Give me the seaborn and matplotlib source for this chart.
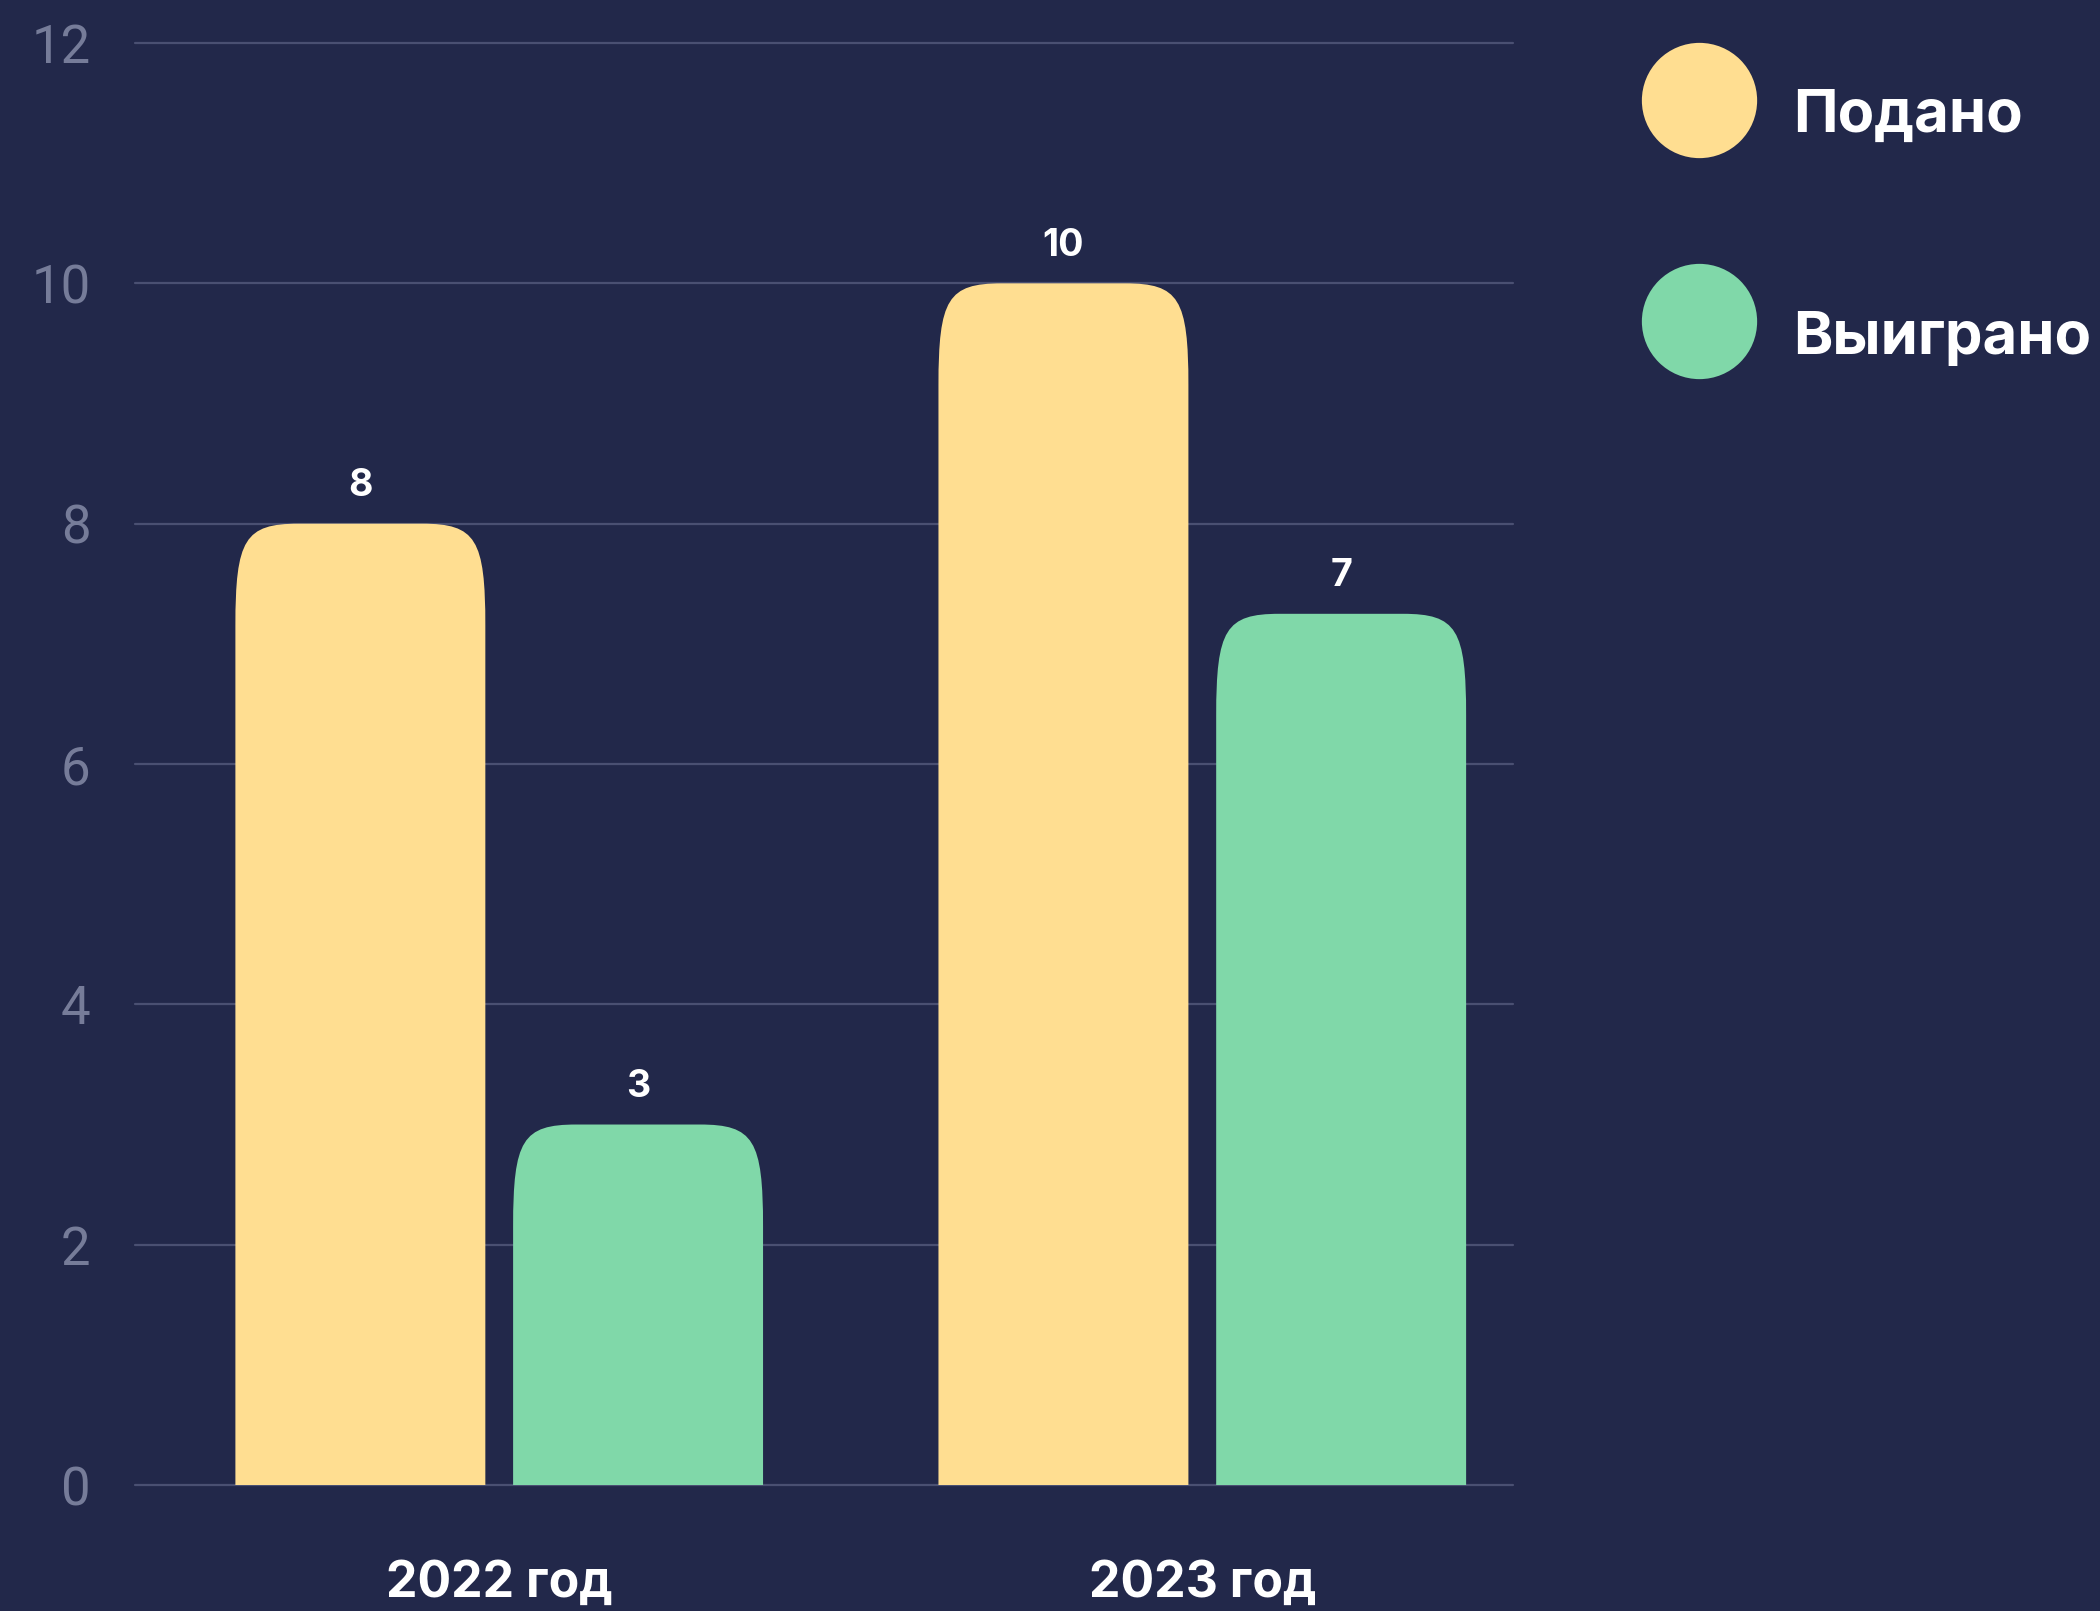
import matplotlib
matplotlib.use("Agg")
import matplotlib.pyplot as plt
from matplotlib.path import Path
from matplotlib.patches import PathPatch
from matplotlib.lines import Line2D
import pandas as pd
import seaborn as sns

# data
years = ["2022 год", "2023 год"]
series = ["Подано", "Выиграно"]
submitted = [8, 10]
won = [3, 7.25]
colors = ["#FFDE91", "#80D8A9"]
y_ticks = [0, 2, 4, 6, 8, 10, 12]

BG = "#22284A"
GRID = "#4A5072"
TICK = "#767C99"

df = pd.DataFrame({
    "year": years * 2,
    "status": [series[0]] * len(years) + [series[1]] * len(years),
    "value": submitted + won,
})

sns.set_theme(style="white")
plt.rcParams["font.family"] = ["Inter", "DejaVu Sans"]

fig = plt.figure(figsize=(21, 16.11), dpi=100, facecolor=BG)
ax = fig.add_axes([0.0643, 0.0782, 0.6562, 0.8951])
ax.set_facecolor(BG)

sns.barplot(data=df, x="year", y="value", hue="status", hue_order=series,
            palette=colors, width=0.79, gap=0.1, saturation=1,
            legend=False, ax=ax)


def rounded_top(x0, w, h, rx, ry, k=0.15):
    # bar outline with smooth (squircle-like) top corners
    x1 = x0 + w
    verts = [(x0, 0), (x0, h - ry),
             (x0, h - ry * k), (x0 + rx * k, h), (x0 + rx, h),
             (x1 - rx, h),
             (x1 - rx * k, h), (x1, h - ry * k), (x1, h - ry),
             (x1, 0), (x0, 0)]
    codes = [Path.MOVETO, Path.LINETO,
             Path.CURVE4, Path.CURVE4, Path.CURVE4,
             Path.LINETO,
             Path.CURVE4, Path.CURVE4, Path.CURVE4,
             Path.LINETO, Path.CLOSEPOLY]
    return Path(verts, codes)


for cont in ax.containers:
    for rect in cont:
        rect.set_visible(False)
        p = PathPatch(rounded_top(rect.get_x(), rect.get_width(), rect.get_height(), 0.09, 0.85),
                      facecolor=rect.get_facecolor(), edgecolor="none", zorder=2)
        ax.add_patch(p)
    ax.bar_label(cont, fmt="{:.0f}", padding=14, color="white",
                 fontsize=27, fontweight="bold")

ax.set_xlim(-0.518, 1.442)
ax.set_ylim(0, 12)
ax.set_yticks(y_ticks)
ax.set_axisbelow(True)
ax.yaxis.grid(True, color=GRID, linewidth=1.6)
for gl in ax.get_ygridlines():
    gl.set_clip_on(False)
ax.xaxis.grid(False)
sns.despine(ax=ax, left=True, bottom=True)

ax.set_xlabel("")
ax.set_ylabel("")
ax.tick_params(axis="y", length=0, pad=32, labelsize=38, labelcolor=TICK)
ax.tick_params(axis="x", length=0, pad=54, labelsize=36, labelcolor="white")
for t in ax.get_yticklabels():
    t.set_fontfamily(["Roboto", "DejaVu Sans"])
    t.set_fontweight("normal")
for t in ax.get_xticklabels():
    t.set_fontweight("bold")

handles = [Line2D([], [], linestyle="none", marker="o", markersize=83,
                  markerfacecolor=c, markeredgecolor="none") for c in colors]
leg = fig.legend(handles, series, loc="upper left", bbox_to_anchor=(0.7814, 0.958),
                 frameon=False, borderpad=0, borderaxespad=0,
                 handlelength=1.95, handleheight=1.95, handletextpad=0.6,
                 labelspacing=2.2, labelcolor="white", prop={"weight": "bold", "size": 43})

fig.savefig("out.png", dpi=100, facecolor=BG)
